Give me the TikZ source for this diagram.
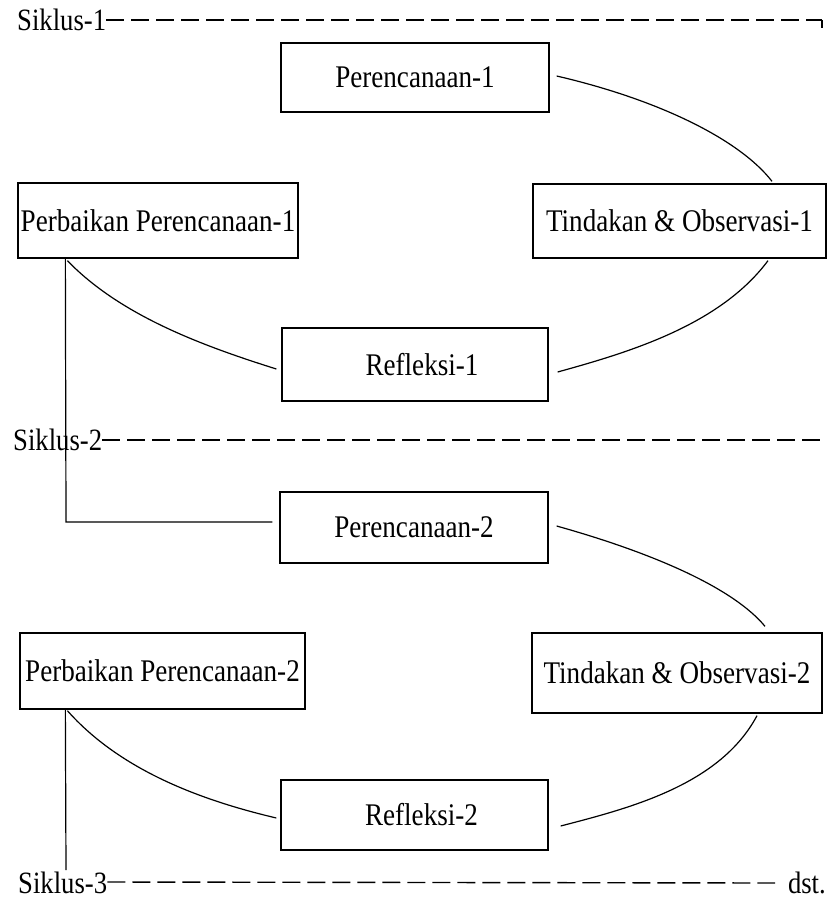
\documentclass[tikz,border=0pt]{standalone}
\usepackage{fontspec}
\setmainfont{Liberation Serif}[FakeStretch=0.86]
\begin{document}
\begin{tikzpicture}[x=1pt,y=-1pt,
  box/.style={draw,line width=1.3pt,inner sep=0pt,font=\fontsize{31.5}{36}\selectfont},
  lbl/.style={inner sep=0pt,font=\fontsize{31}{36}\selectfont},
  conn/.style={line width=1.2pt},
  cyc/.style={line width=1.4pt,dash pattern=on 18pt off 7pt}]
\useasboundingbox (0,0) rectangle (827,899);
% boxes
\node[box,minimum width=268pt,minimum height=69pt] (p1) at (415,77.5) {\raisebox{-9pt}{Perencanaan-1}};
\node[box,minimum width=280pt,minimum height=75pt] (pp1) at (158,220.5) {Perbaikan Perencanaan-1};
\node[box,minimum width=293pt,minimum height=74pt] (t1) at (679.5,221) {Tindakan \& Observasi-1};
\node[box,minimum width=266pt,minimum height=73pt] (r1) at (415,364.5) {\hspace*{14pt}Refleksi-1};
\node[box,minimum width=268pt,minimum height=71pt] (p2) at (414,527.5) {Perencanaan-2};
\node[box,minimum width=285pt,minimum height=76pt] (pp2) at (162.5,671) {\raisebox{-4pt}{Perbaikan Perencanaan-2}};
\node[box,minimum width=290pt,minimum height=80pt] (t2) at (677,673) {Tindakan \& Observasi-2};
\node[box,minimum width=267pt,minimum height=70pt] (r2) at (414.5,815) {\hspace*{14pt}Refleksi-2};
% cycle labels
\node[lbl,anchor=west] (s1) at (17,20) {Siklus-1};
\node[lbl,anchor=west] (s2) at (13,440) {Siklus-2};
\node[lbl,anchor=base west] (s3) at (18,893) {Siklus-3};
\node[lbl,anchor=base east] (dst) at (826,893) {dst.};
\coordinate (e1) at (822,20);
\coordinate (e1b) at (822,28);
\coordinate (e2) at (827,440);
\coordinate (e3) at (775,883);
\draw[cyc] (s1.east) -- (e1);
\draw[conn] (e1) -- (e1b);
\draw[cyc] (s2.east) -- (e2);
\draw[cyc] ([yshift=11pt]s3.base east) -- (e3);
% cycle 1 curves
\draw[conn] ([xshift=7pt,yshift=1.5pt]p1.east) .. controls (660,100) and (740,140) .. ([xshift=92.5pt,yshift=2pt]t1.north);
\draw[conn] ([xshift=88.5pt,yshift=-2pt]t1.south) .. controls (720,325) and (630,352) .. ([xshift=9pt,yshift=-7.5pt]r1.east);
\draw[conn] ([xshift=50pt,yshift=-2pt]pp1.south west) .. controls (120,315) and (200,345) .. ([xshift=-5pt,yshift=-4.5pt]r1.west);
% link to cycle 2
\coordinate (v1) at (66,522);
\draw[conn] ([xshift=48pt]pp1.south west) -- (v1) -- ([xshift=-7pt,yshift=5.5pt]p2.west);
% cycle 2 curves
\draw[conn] ([xshift=8pt,yshift=1.5pt]p2.east) .. controls (660,555) and (735,590) .. ([xshift=88pt,yshift=6pt]t2.north);
\draw[conn] ([xshift=80pt,yshift=-2pt]t2.south) .. controls (720,785) and (630,808) .. ([xshift=12pt,yshift=-11pt]r2.east);
\draw[conn] ([xshift=48pt,yshift=-1pt]pp2.south west) .. controls (120,770) and (200,800) .. ([xshift=-4pt,yshift=-3pt]r2.west);
\coordinate (v2) at (66,870);
\draw[conn] ([xshift=46pt]pp2.south west) -- (v2);
\end{tikzpicture}
\end{document}
